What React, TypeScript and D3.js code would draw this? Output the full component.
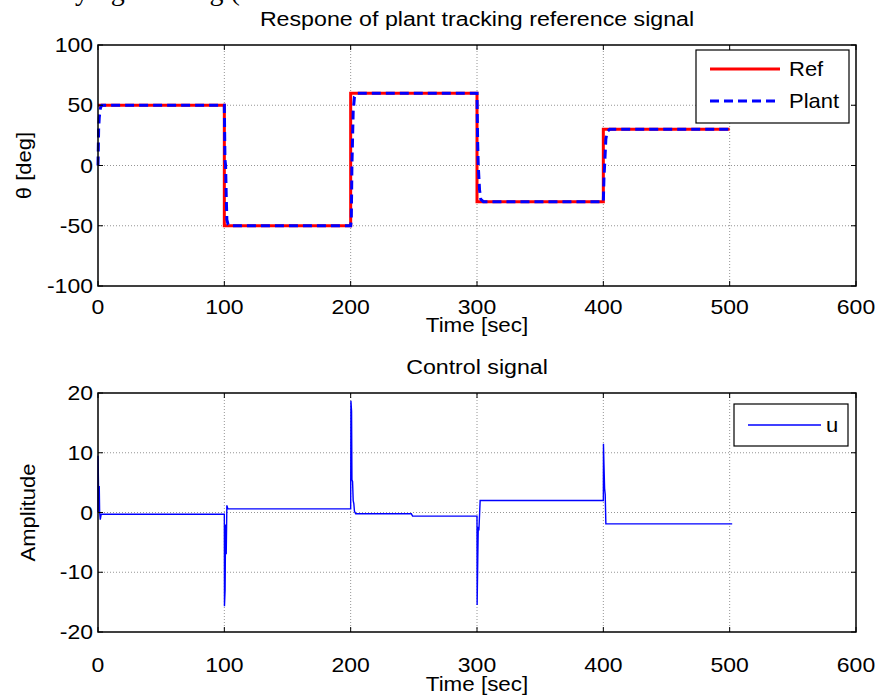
import React from "react";
import * as d3 from "d3";

// ---- Data ----
const refT = [0, 100, 100, 200, 200, 300, 300, 400, 400, 500];
const refY = [50, 50, -50, -50, 60, 60, -30, -30, 30, 30];

const plantT = [0, 0.5, 1, 2, 3, 100, 100.5, 101, 101.5, 102, 103, 104, 200, 200.5, 201, 202, 203, 205, 300, 300.5, 301, 302, 303, 305, 400, 400.5, 401, 402, 403, 405, 500];
const plantY = [0, 30, 40, 48, 50, 50, 5, 0, -25, -45, -49, -50, -50, -45, 0, 45, 57, 60, 60, 20, 0, -20, -28, -30, -30, -10, 0, 22, 28, 30, 30];

const uT = [0, 0.05, 0.4, 1.0, 1.3, 1.8, 2.5, 100, 100.1, 100.6, 101, 101.5, 102, 102.8, 200, 200.2, 200.7, 201, 201.5, 202, 202.5, 203, 204, 248, 249, 300, 300.1, 300.6, 301, 301.5, 302.5, 400, 400.1, 400.5, 401, 401.5, 402, 502];
const uV = [0, 9.5, 4.3, 4.3, 0, -1.2, -0.3, -0.3, -15.7, -13, -2, -7, 1.2, 0.6, 0.6, 18.7, 17, 5.5, 5.2, 2, 1.5, 0.2, -0.2, -0.2, -0.6, -0.6, -15.5, -8, -2.4, -3, 2.0, 2.0, 11.5, 8, 4, 3, -1.9, -1.9];

const xTicks = [0, 100, 200, 300, 400, 500, 600];
const yTicksTop = [-100, -50, 0, 50, 100];
const yTicksBot = [-20, -10, 0, 10, 20];

const FONT = "Liberation Sans, Arial, sans-serif";

function T({ x, y, sx = 1.15, size = 20, anchor = "start", rot = 0, children }: any) {
  return (
    <text
      transform={`translate(${x},${y}) rotate(${rot}) scale(${sx},1)`}
      textAnchor={anchor}
      fontSize={size}
      fontFamily={FONT}
      fill="#000"
    >
      {children}
    </text>
  );
}

function Grid({ x, y, xt, yt }: any) {
  const [x0, x1] = x.range();
  const [y0, y1] = y.range();
  return (
    <g>
      {xt.slice(1, -1).map((t: number) => (
        <line key={"gx" + t} x1={x(t)} x2={x(t)} y1={y0} y2={y1} stroke="#7a7a7a" strokeWidth={0.8} strokeDasharray="1,2" />
      ))}
      {yt.slice(1, -1).map((t: number) => (
        <line key={"gy" + t} x1={x0} x2={x1} y1={y(t)} y2={y(t)} stroke="#7a7a7a" strokeWidth={0.8} strokeDasharray="1,2" />
      ))}
    </g>
  );
}

function Frame({ x, y, xt, yt, title, ylabel, ylabelX, xLabOff, timeOff }: any) {
  const [x0, x1] = x.range();
  const [y0, y1] = y.range();
  const tick = 5;
  return (
    <g>
      {xt.map((t: number) => (
        <g key={"tx" + t}>
          <line x1={x(t)} x2={x(t)} y1={y0} y2={y0 - tick} stroke="#000" strokeWidth={1} />
          <line x1={x(t)} x2={x(t)} y1={y1} y2={y1 + tick} stroke="#000" strokeWidth={1} />
          <T x={x(t)} y={y0 + xLabOff} anchor="middle">{t}</T>
        </g>
      ))}
      {yt.map((t: number) => (
        <g key={"ty" + t}>
          <line x1={x0} x2={x0 + tick} y1={y(t)} y2={y(t)} stroke="#000" strokeWidth={1} />
          <line x1={x1} x2={x1 - tick} y1={y(t)} y2={y(t)} stroke="#000" strokeWidth={1} />
          <T x={x0 - 5} y={y(t) + 7} anchor="end">{t}</T>
        </g>
      ))}
      <rect x={x0} y={y1} width={x1 - x0} height={y0 - y1} fill="none" stroke="#000" strokeWidth={1.5} />
      <T x={(x0 + x1) / 2} y={y1 - 19} anchor="middle" sx={1.16}>{title}</T>
      <T x={(x0 + x1) / 2} y={y0 + timeOff} anchor="middle" sx={1.12}>Time [sec]</T>
      <T x={ylabelX} y={(y0 + y1) / 2} anchor="middle" rot={-90} sx={1.1}>{ylabel}</T>
    </g>
  );
}

export default function App() {
  const x = d3.scaleLinear().domain([0, 600]).range([98, 856]);
  const yTop = d3.scaleLinear().domain([-100, 100]).range([286, 45]);
  const yBot = d3.scaleLinear().domain([-20, 20]).range([632, 393]);

  const refLine = d3.line<number>().x((_, i) => x(refT[i])).y((d) => yTop(d));
  const plantLine = d3.line<number>().x((_, i) => x(plantT[i])).y((d) => yTop(d));
  const uLine = d3.line<number>().x((_, i) => x(uT[i])).y((d) => yBot(d));

  return (
    <svg width={878} height={697} style={{ position: "absolute", left: 0, top: 0, background: "#fff" }}>
      <rect x={0} y={0} width={878} height={697} fill="#fff" />
      <text x={19} y={0} fontSize={28} fontFamily="Liberation Serif, serif">Verifying tracking (</text>
      <Grid x={x} y={yTop} xt={xTicks} yt={yTicksTop} />
      <Grid x={x} y={yBot} xt={xTicks} yt={yTicksBot} />
      <path d={refLine(refY) || ""} fill="none" stroke="#ff0000" strokeWidth={3} />
      <path d={plantLine(plantY) || ""} fill="none" stroke="#0000ff" strokeWidth={3} strokeDasharray="9,5" />
      <path d={uLine(uV) || ""} fill="none" stroke="#0000ff" strokeWidth={1.4} />
      <Frame x={x} y={yTop} xt={xTicks} yt={yTicksTop} title="Respone of plant tracking reference signal" ylabel="θ [deg]" ylabelX={31} xLabOff={28} timeOff={46} />
      <Frame x={x} y={yBot} xt={xTicks} yt={yTicksBot} title="Control signal" ylabel="Amplitude" ylabelX={35} xLabOff={40} timeOff={59} />
      {/* top legend */}
      <rect x={696} y={50} width={153} height={73} fill="#fff" stroke="#000" strokeWidth={1.2} />
      <line x1={710} x2={780} y1={69} y2={69} stroke="#ff0000" strokeWidth={3} />
      <T x={789} y={76} sx={1.1}>Ref</T>
      <line x1={710} x2={780} y1={101} y2={101} stroke="#0000ff" strokeWidth={3} strokeDasharray="9,5" />
      <T x={789} y={108} sx={1.1}>Plant</T>
      {/* bottom legend */}
      <rect x={734} y={404} width={114} height={42} fill="#fff" stroke="#000" strokeWidth={1.2} />
      <line x1={748} x2={821} y1={425} y2={425} stroke="#0000ff" strokeWidth={1.4} />
      <T x={826} y={432} sx={1.1}>u</T>
    </svg>
  );
}
